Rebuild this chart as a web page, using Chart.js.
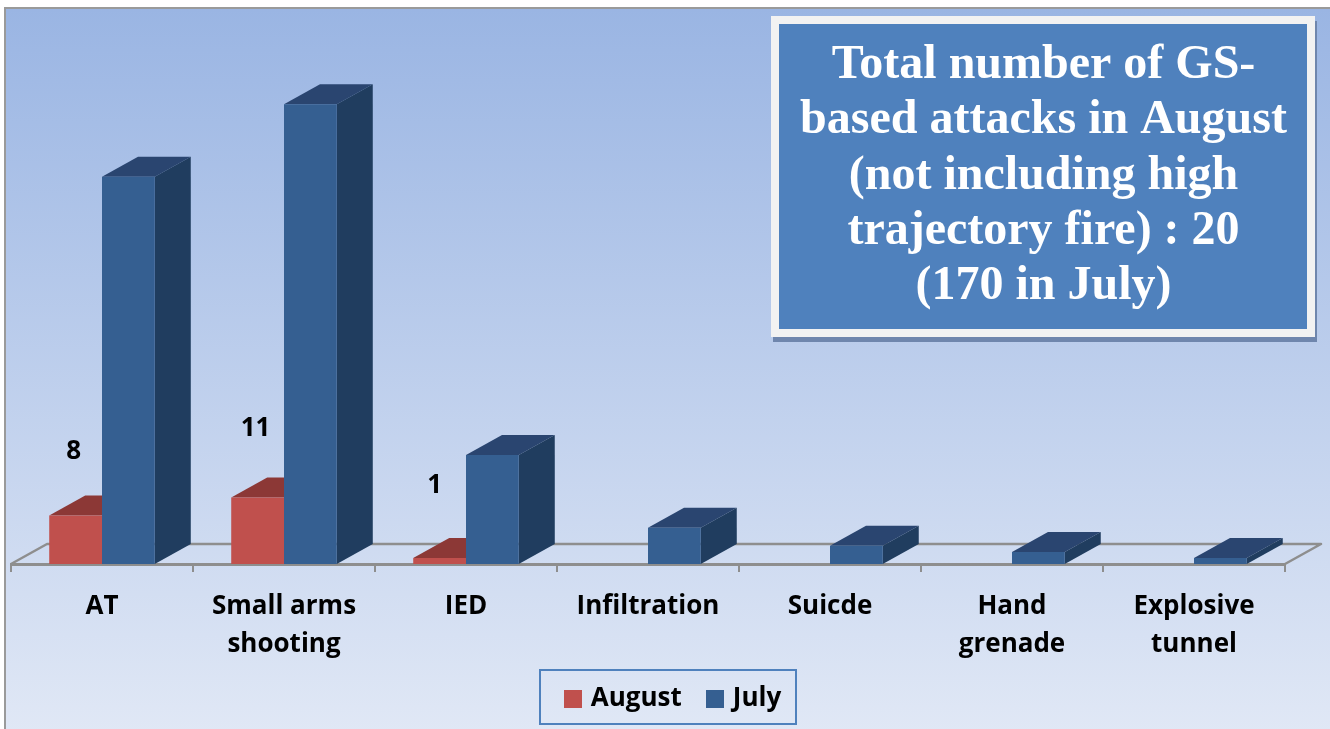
<!DOCTYPE html>
<html><head><meta charset="utf-8">
<style>
html,body{margin:0;padding:0;width:1330px;height:729px;overflow:hidden;background:#fff}
#frame{position:absolute;left:4px;top:7px;width:1340px;height:740px;border:2px solid #9a9a9a;background:linear-gradient(to bottom,#9ab5e3 0%,#e2e9f6 100%)}
canvas{position:absolute;left:0;top:0}
</style>
<script src="https://cdn.jsdelivr.net/npm/chart.js@4/dist/chart.umd.min.js"></script>
</head><body><div id="frame"></div><canvas id="c" width="1330" height="729"></canvas>
<script>
const categories=[["AT"],["Small arms","shooting"],["IED"],["Infiltration"],["Suicde"],["Hand","grenade"],["Explosive","tunnel"]];
const august=[8,11,1,null,null,null,null];
const july=[64,76,18,6,3,2,1];
const seriesNames=["August","July"];
const titleLines=["Total number of GS-","based attacks in August","(not including high","trajectory fire) : 20","(170 in July)"];
const labelShiftX=[-2,-2,-5];
const labelShiftY=[64,69,72];
const DX=36,DY=-20;
const RED='#c0504d',BLUE='#355f91';
const faces=[{top:'#8c3836',side:'#7a2e2c'},{top:'#2a4570',side:'#203d5f'}];
function swatch(color){
  const s=document.createElement('canvas');s.width=18;s.height=18;
  const g=s.getContext('2d');g.fillStyle=color;g.fillRect(0,0,18,18);
  return s;
}

const scene={
  id:'scene',
  afterLayout(chart){
    const l=chart.legend;
    l.left=350;l.right=1000;l.top=657;
  },
  beforeDatasetsDraw(chart){
    const {ctx,chartArea:a}=chart;
    ctx.save();
    ctx.strokeStyle='#8e8e8e';ctx.lineWidth=2.5;ctx.lineJoin='round';
    ctx.beginPath();
    ctx.moveTo(a.left,a.bottom);ctx.lineTo(a.left+DX,a.bottom+DY);ctx.lineTo(a.right+DX,a.bottom+DY);ctx.lineTo(a.right,a.bottom);
    ctx.stroke();
    chart.data.datasets.forEach((d,i)=>{
      chart.getDatasetMeta(i).data.forEach((b,j)=>{
        if(d.data[j]==null)return;
        const p=b.getProps(['x','y','width','base'],true);
        const L=p.x-p.width/2,R=p.x+p.width/2;
        ctx.fillStyle=faces[i].top;
        ctx.beginPath();ctx.moveTo(L,p.y);ctx.lineTo(L+DX,p.y+DY);ctx.lineTo(R+DX,p.y+DY);ctx.lineTo(R,p.y);ctx.closePath();ctx.fill();
        ctx.fillStyle=faces[i].side;
        ctx.beginPath();ctx.moveTo(R,p.y);ctx.lineTo(R+DX,p.y+DY);ctx.lineTo(R+DX,p.base+DY);ctx.lineTo(R,p.base);ctx.closePath();ctx.fill();
      });
    });
    ctx.restore();
  },
  afterDraw(chart){
    const {ctx}=chart;
    ctx.save();
    ctx.fillStyle='#000';ctx.textAlign='center';ctx.textBaseline='middle';ctx.font='bold 26px "Open Sans"';
    chart.getDatasetMeta(0).data.forEach((b,j)=>{
      if(august[j]==null)return;
      ctx.fillText(String(august[j]),b.x+labelShiftX[j],b.y-labelShiftY[j]);
    });
    ctx.strokeStyle='#4f81bd';ctx.lineWidth=2;ctx.strokeRect(540,670,256,54);
    ctx.fillStyle='#6f86ad';ctx.fillRect(773,21,544,321);
    ctx.fillStyle='#f2f2f2';ctx.fillRect(771,16,544,321);
    ctx.fillStyle='#4f81bd';ctx.fillRect(779,24,528,305);
    ctx.fillStyle='#fff';ctx.font='bold 48px "Liberation Serif"';
    titleLines.forEach((t,i)=>ctx.fillText(t,1043.5,65.5+i*55.3));
    ctx.restore();
  }
};

new Chart(document.getElementById('c'),{
  type:'bar',
  data:{labels:categories,datasets:[
    {label:seriesNames[0],data:august,backgroundColor:RED,borderWidth:0,pointStyle:swatch(RED)},
    {label:seriesNames[1],data:july,backgroundColor:BLUE,borderWidth:0,pointStyle:swatch(BLUE)}
  ]},
  options:{
    responsive:false,animation:false,
    layout:{padding:{left:11,right:45,top:80,bottom:0}},
    categoryPercentage:0.58,barPercentage:1,
    scales:{
      x:{
        grid:{drawOnChartArea:false,color:'#8e8e8e',lineWidth:2,tickLength:8,offset:true},
        border:{color:'#8e8e8e',width:3},
        ticks:{color:'#000',font:{family:'"Open Sans"',weight:'bold',size:26,lineHeight:1.46},padding:16,maxRotation:0,autoSkip:false},
        afterFit(s){s.height=165-(s.chart.legend?s.chart.legend.height:0);}
      },
      y:{display:false,min:0,max:80}
    },
    plugins:{
      tooltip:{enabled:false},
      legend:{position:'bottom',labels:{usePointStyle:true,pointStyleWidth:9,boxHeight:18,padding:29,color:'#000',font:{family:'"Open Sans"',weight:'bold',size:26}}}
    }
  },
  plugins:[scene]
});
</script></body></html>
